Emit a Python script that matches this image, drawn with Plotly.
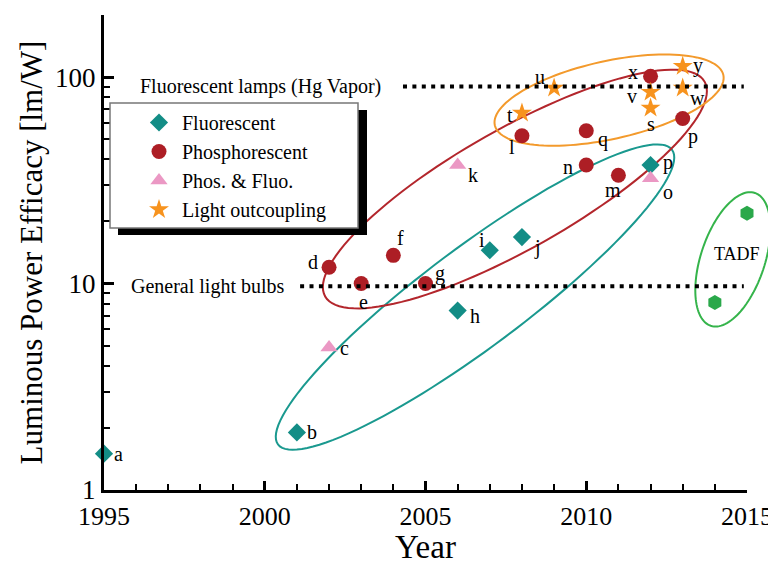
import numpy as np
import plotly.graph_objects as go

# ---------------- data ----------------
fluo_years = [1995, 2001, 2006, 2007, 2008, 2012]
fluo_vals = [1.5, 1.9, 7.4, 14.5, 16.8, 37.5]
fluo_labels = ["a", "b", "h", "i", "j", "p"]

phos_years = [2002, 2003, 2004, 2005, 2008, 2010, 2010, 2011, 2013, 2012]
phos_vals = [12, 10, 13.7, 10, 52, 55, 37.5, 33.5, 63, 101]
phos_labels = ["d", "e", "f", "g", "l", "q", "n", "m", "p", "x"]

pf_years = [2002, 2006, 2012]
pf_vals = [4.9, 37.5, 32.4]
pf_labels = ["c", "k", "o"]

lo_years = [2008, 2009, 2012, 2012, 2013, 2013]
lo_vals = [67, 88.5, 84.6, 70.8, 88.5, 113]
lo_labels = ["t", "u", "v", "s", "w", "y"]

tadf_years = [2014, 2015]
tadf_vals = [8.1, 21.9]

ref_names = ["Fluorescent lamps (Hg Vapor)", "General light bulbs"]
ref_vals = [90, 9.7]
ref_x_start = [2004.3, 2001.1]
ref_x_end = [2014.9, 2014.9]

x_ticks = [1995, 2000, 2005, 2010, 2015]
y_ticks = [1, 10, 100]

# ---------------- styles / layout ----------------
PAGE = 8                      # default body margin of the html page
FIG_W, FIG_H = 776 - PAGE, 565 - PAGE
PLOT_L, PLOT_R, PLOT_T, PLOT_B = 104, 747, 15, 490   # target pixel box in window
M = dict(l=PLOT_L - PAGE, r=FIG_W - (PLOT_R - PAGE), t=PLOT_T - PAGE, b=FIG_H - (PLOT_B - PAGE))
X0, X1 = 1995, 2015
YMAX = 200
PW = PLOT_R - PLOT_L
PH = PLOT_B - PLOT_T
PX_YEAR = PW / (X1 - X0)
PX_DEC = PH / np.log10(YMAX)

FONT = "Liberation Serif, Times New Roman, serif"
TEAL = "#138d86"
RED = "#ad1e25"
PINK = "#eb98c4"
ORANGE = "#f7931e"
GREEN = "#2aa84a"

# label offsets (px): (dx, dy screen-down)
fluo_off = [(14, 0), (15, 0), (17, 5), (-8, -10), (16, 10), (17, -3)]
phos_off = [(-16, -5), (2, 18), (7, -17), (14, -10), (-10, 11), (17, 9), (-18, 2), (-5, 15), (10, 18), (-18, -4)]
pf_off = [(15, 0), (15, 10), (17, 14)]
lo_off = [(-12, 2), (-14, -11), (-19, 4), (0, 16), (15, 10), (15, -1)]

# ellipses: center (year, value), semi-axes px, angle deg, color
ellipses = [
    dict(c=(2006.54, 8.6), a=246, b=50, ang=36.8, color="#1a998f"),
    dict(c=(2007.78, 28.7), a=218, b=60, ang=29.5, color="#b3262c"),
    dict(c=(2010.71, 77.4), a=117, b=39, ang=12.4, color="#f39a2c"),
    dict(c=(2014.56, 13.1), a=70, b=32, ang=71.6, color="#35b44b"),
]

fig = go.Figure()

def add_series(xs, ys, name, symbol, size, color, showlegend=True):
    fig.add_trace(go.Scatter(
        x=xs, y=ys, mode="markers", name=name, showlegend=showlegend,
        cliponaxis=False,
        marker=dict(symbol=symbol, size=size, color=color, line=dict(width=0)),
    ))

add_series(fluo_years, fluo_vals, "Fluorescent", "diamond", 14, TEAL)
add_series(phos_years, phos_vals, "Phosphorescent", "circle", 15, RED)
add_series(pf_years, pf_vals, "Phos. & Fluo.", "triangle-up", 15, PINK)
add_series(lo_years, lo_vals, "Light outcoupling", "star", 15, ORANGE)
add_series(tadf_years, tadf_vals, "TADF", "hexagon", 15, GREEN, showlegend=False)

# reference dotted lines
for name, v, xs, xe in zip(ref_names, ref_vals, ref_x_start, ref_x_end):
    fig.add_trace(go.Scatter(
        x=[xs, xe], y=[v, v], mode="lines", showlegend=False, hoverinfo="skip",
        line=dict(color="black", width=4, dash="4px,5.4px"),
    ))

annotations = []
ref_gaps = [20, 13]
for name, v, xs, g in zip(ref_names, ref_vals, ref_x_start, ref_gaps):
    annotations.append(dict(
        x=xs, y=np.log10(v), xref="x", yref="y", text=name, showarrow=False,
        xanchor="right", yanchor="middle", xshift=-g,
        font=dict(family=FONT, size=20, color="black"),
    ))

for xs, ys, labs, offs in [(fluo_years, fluo_vals, fluo_labels, fluo_off),
                           (phos_years, phos_vals, phos_labels, phos_off),
                           (pf_years, pf_vals, pf_labels, pf_off),
                           (lo_years, lo_vals, lo_labels, lo_off)]:
    for x, y, t, (dx, dy) in zip(xs, ys, labs, offs):
        annotations.append(dict(
            x=x, y=np.log10(y), xref="x", yref="y", text=t, showarrow=False,
            xanchor="center", yanchor="middle", xshift=dx, yshift=-dy,
            font=dict(family=FONT, size=20, color="black"),
        ))

annotations.append(dict(
    x=2014.56, y=np.log10(13.1), xref="x", yref="y", text="TADF", showarrow=False,
    xanchor="center", yanchor="middle", yshift=5, xshift=4,
    font=dict(family=FONT, size=18, color="black"),
))

# ellipse shapes (paper coordinates so they are not clipped)
shapes = []
t = np.linspace(0, 2 * np.pi, 121)
for e in ellipses:
    cx = (e["c"][0] - X0) * PX_YEAR
    cy = np.log10(e["c"][1]) * PX_DEC
    th = np.radians(e["ang"])
    px = cx + e["a"] * np.cos(t) * np.cos(th) - e["b"] * np.sin(t) * np.sin(th)
    py = cy + e["a"] * np.cos(t) * np.sin(th) + e["b"] * np.sin(t) * np.cos(th)
    xs_p = px / PW
    ys_p = py / PH
    path = "M " + " L ".join(f"{a:.5f},{b:.5f}" for a, b in zip(xs_p, ys_p)) + " Z"
    shapes.append(dict(type="path", path=path, xref="paper", yref="paper",
                       line=dict(color=e["color"], width=2), layer="below"))

# legend box with shadow (window pixel positions converted to paper)
def px2paper(xp, yp):
    return (xp - PLOT_L) / PW, (PLOT_B - yp) / PH

sx0, sy0 = px2paper(118, 235)
sx1, sy1 = px2paper(367, 110)
shapes.append(dict(type="rect", xref="paper", yref="paper", x0=sx0, y0=sy0, x1=sx1, y1=sy1,
                   fillcolor="black", line=dict(width=0), layer="above"))
bx0, by0 = px2paper(110, 228)
bx1, by1 = px2paper(358, 103)
shapes.append(dict(type="rect", xref="paper", yref="paper", x0=bx0, y0=by0, x1=bx1, y1=by1,
                   fillcolor="white", line=dict(color="#777777", width=1.5), layer="above"))

lx, ly = px2paper(136, 103)

fig.update_layout(
    width=FIG_W, height=FIG_H, margin=M,
    paper_bgcolor="white", plot_bgcolor="rgba(0,0,0,0)",
    font=dict(family=FONT, color="black"),
    shapes=shapes, annotations=annotations,
    legend=dict(x=lx, y=ly, xanchor="left", yanchor="top",
                bgcolor="rgba(0,0,0,0)", borderwidth=0,
                font=dict(family=FONT, size=20, color="black"),
                tracegroupgap=0, itemwidth=36),
    xaxis=dict(range=[X0, X1], tickvals=x_ticks, showline=True, linewidth=3, linecolor="black",
               ticks="inside", ticklen=9, tickwidth=3, tickcolor="black",
               minor=dict(ticks="inside", dtick=1, ticklen=6, tickwidth=1.5, tickcolor="black"),
               showgrid=False, zeroline=False, automargin=False, ticklabelstandoff=1,
               tickfont=dict(family=FONT, size=26, color="black"),
               title=dict(text="Year", font=dict(family=FONT, size=33, color="black"), standoff=4)),
    yaxis=dict(type="log", range=[0, np.log10(YMAX)], tickvals=y_ticks, ticktext=[str(v) for v in y_ticks],
               showline=True, linewidth=3, linecolor="black",
               ticks="inside", ticklen=10, tickwidth=3, tickcolor="black",
               minor=dict(ticks="inside", ticklen=6, tickwidth=1.5, tickcolor="black",
                          tickvals=[m * 10 ** d for d in range(3) for m in range(2, 10) if m * 10 ** d <= YMAX]),
               showgrid=False, zeroline=False, automargin=False,
               tickfont=dict(family=FONT, size=27, color="black"),
               title=dict(text="Luminous Power Efficacy [lm/W]", font=dict(family=FONT, size=31, color="black"),
                          standoff=4)),
)

fig.write_html("out.html")
